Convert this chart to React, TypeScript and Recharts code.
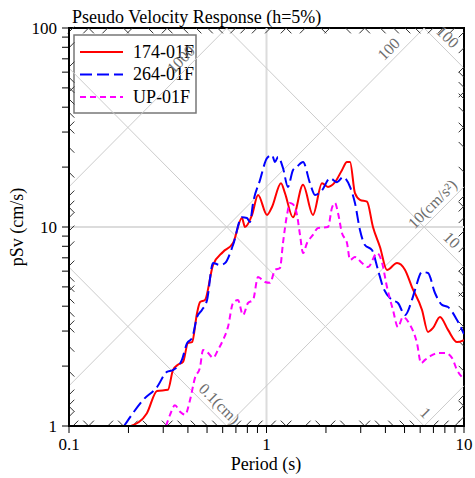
import React from 'react';
import { LineChart, Line, XAxis, YAxis, ReferenceLine, ReferenceArea, ReferenceDot, Customized } from 'recharts';

const titleText = 'Pseudo Velocity Response (h=5%)';
const xLabel = 'Period (s)';
const yLabel = 'pSv (cm/s)';

const seriesNames = ['174-01F', '264-01F', 'UP-01F'];
const seriesColors = ['#ff0000', '#0000ff', '#ff00ff'];
const seriesDash = ['', '12 5', '6 4'];

// 174-01F
const redT = [0.206, 0.248, 0.279, 0.317, 0.336, 0.356, 0.378, 0.400, 0.420, 0.445, 0.461, 0.488, 0.536, 0.602, 0.677, 0.751, 0.778, 0.845, 0.906, 1.006, 1.066, 1.184, 1.24, 1.361, 1.531, 1.719, 1.91, 2.048, 2.223, 2.41, 2.556, 2.648, 2.805, 2.973, 3.227, 3.46, 3.755, 4.074, 4.58, 5.03, 5.45, 6.13, 6.57, 6.97, 7.56, 8.30, 9.22, 10.0];
const redV = [1.0, 1.16, 1.50, 1.52, 1.91, 2.03, 2.10, 2.61, 2.64, 3.70, 4.20, 4.30, 6.44, 7.49, 8.31, 11.1, 10.0, 11.5, 14.5, 11.5, 12.6, 16.6, 14.8, 11.2, 16.3, 11.5, 16.6, 15.9, 16.8, 19.3, 21.2, 21.2, 14.8, 13.7, 13.4, 10.0, 7.93, 6.08, 6.59, 6.08, 4.99, 3.83, 2.97, 3.11, 3.53, 3.04, 2.64, 2.70];

// 264-01F
const blueT = [0.190, 0.208, 0.237, 0.279, 0.313, 0.336, 0.373, 0.396, 0.420, 0.445, 0.471, 0.500, 0.536, 0.582, 0.617, 0.677, 0.751, 0.796, 0.825, 0.855, 0.927, 1.006, 1.066, 1.104, 1.143, 1.212, 1.284, 1.361, 1.427, 1.531, 1.66, 1.76, 1.91, 2.097, 2.275, 2.44, 2.648, 2.805, 2.973, 3.15, 3.42, 3.67, 3.89, 4.32, 4.63, 5.03, 5.45, 5.65, 6.13, 6.57, 7.13, 7.74, 8.30, 9.22, 10.0];
const blueV = [1.0, 1.14, 1.35, 1.57, 1.87, 1.91, 2.15, 2.61, 2.77, 3.53, 3.83, 4.30, 6.59, 6.44, 6.59, 8.12, 11.2, 11.1, 10.6, 13.2, 17.2, 22.2, 23.0, 21.2, 22.5, 19.8, 15.9, 19.3, 20.1, 21.2, 16.6, 14.5, 15.3, 17.6, 16.8, 17.8, 15.9, 13.2, 9.66, 8.12, 7.66, 6.08, 4.99, 4.30, 4.15, 3.61, 4.30, 4.83, 5.94, 5.87, 4.66, 4.06, 3.96, 3.41, 2.90];

// UP-01F
const magT = [0.310, 0.325, 0.344, 0.365, 0.387, 0.410, 0.434, 0.461, 0.477, 0.506, 0.536, 0.568, 0.602, 0.638, 0.677, 0.717, 0.760, 0.806, 0.855, 0.906, 0.982, 1.042, 1.104, 1.17, 1.212, 1.27, 1.315, 1.361, 1.427, 1.478, 1.531, 1.604, 1.719, 1.823, 2.048, 2.146, 2.223, 2.30, 2.41, 2.556, 2.648, 2.805, 3.045, 3.265, 3.63, 3.85, 4.074, 4.37, 4.63, 4.91, 5.33, 5.78, 6.06, 6.35, 6.89, 7.38, 8.01, 8.69, 9.22, 10.0];
const magV = [1.0, 1.14, 1.27, 1.18, 1.14, 1.35, 1.74, 1.98, 2.41, 2.33, 2.20, 2.41, 2.70, 3.14, 4.15, 4.30, 3.61, 4.15, 4.30, 5.61, 5.29, 5.24, 6.08, 6.22, 8.31, 11.5, 13.2, 13.0, 11.5, 9.12, 7.40, 8.31, 9.12, 9.89, 10.0, 12.5, 13.2, 11.8, 9.33, 8.31, 6.83, 7.07, 6.59, 6.29, 7.40, 6.59, 4.99, 3.83, 3.14, 3.53, 3.22, 2.61, 2.07, 2.15, 2.27, 2.33, 2.33, 2.20, 1.91, 1.72];

const xDomain = [0.1, 10];
const yDomain = [1, 100];
const xTicks = [0.1, 0.2, 0.3, 0.4, 0.5, 0.6, 0.7, 0.8, 0.9, 1, 2, 3, 4, 5, 6, 7, 8, 9, 10];
const xTickLabels = [0.1, 1, 10];
const yTicks = [1, 2, 3, 4, 5, 6, 7, 8, 9, 10, 20, 30, 40, 50, 60, 70, 80, 90, 100];
const yTickLabels = [1, 10, 100];

// tripartite grid: displacement (cm) and acceleration (cm/s^2)
const dispGrid = [0.1, 1, 10, 100];
const accGrid = [1, 10, 100, 1000];
const dispDecades = [0.01, 0.1, 1, 10, 100];
const accDecades = [0.1, 1, 10, 100, 1000];
const tickMultipliers = [2, 3, 4, 5, 6, 7, 8, 9];

const diagLabels = [
  { text: '0.1(cm)', kind: 'd', value: 0.1 },
  { text: '1', kind: 'd', value: 1 },
  { text: '10', kind: 'd', value: 10 },
  { text: '100', kind: 'd', value: 100 },
  { text: '10(cm/s\u00b2)', kind: 'a', value: 10 },
  { text: '100', kind: 'a', value: 100 },
  { text: '1000', kind: 'a', value: 1000 },
];
const diagLabelAt = [0.43, 5.68, 7.45, 6.87, 5.85, 4.1, 0.352];

const FONT = "'Liberation Serif', 'DejaVu Serif', serif";
const fontStyle = { fontFamily: FONT };
const TWO_PI = 2 * Math.PI;
const lg = Math.log10;

function toData(ts: number[], vs: number[]) {
  return ts.map((t, i) => ({ T: t, v: vs[i] }));
}
const seriesData = [toData(redT, redV), toData(blueT, blueV), toData(magT, magV)];

function svOnLine(kind: string, value: number, T: number) {
  return kind === 'd' ? (TWO_PI * value) / T : (value * T) / TWO_PI;
}

// endpoints in log space of a diagonal within the plot box
function clip(kind: string, value: number) {
  const X0 = lg(xDomain[0]), X1 = lg(xDomain[1]), Y0 = lg(yDomain[0]), Y1 = lg(yDomain[1]);
  const pts: number[][] = [];
  const eps = 1e-9;
  if (kind === 'd') {
    const c = lg(TWO_PI * value);
    pts.push([X0, c - X0], [X1, c - X1], [c - Y1, Y1], [c - Y0, Y0]);
  } else {
    const k = lg(value / TWO_PI);
    pts.push([X0, X0 + k], [X1, X1 + k], [Y1 - k, Y1], [Y0 - k, Y0]);
  }
  const inside = pts.filter(p => p[0] >= X0 - eps && p[0] <= X1 + eps && p[1] >= Y0 - eps && p[1] <= Y1 + eps);
  if (inside.length < 2) return null;
  inside.sort((a, b) => a[0] - b[0]);
  return [inside[0], inside[inside.length - 1]];
}

const TICK_L = 0.027;
function frameTicks() {
  const segs: { a: number[]; b: number[] }[] = [];
  const kinds: [string, number[]][] = [['d', dispDecades], ['a', accDecades]];
  kinds.forEach(([kind, decs]) => {
    decs.forEach(dec => {
      tickMultipliers.forEach(m => {
        const v = m * dec;
        const e = clip(kind, v);
        if (!e) return;
        const dy = kind === 'd' ? -1 : 1;
        const [p, q] = e;
        segs.push({ a: p, b: [p[0] + TICK_L, p[1] + dy * TICK_L] });
        segs.push({ a: q, b: [q[0] - TICK_L, q[1] - dy * TICK_L] });
      });
    });
  });
  return segs;
}

const DiagText = (props: any) => {
  const { cx, cy, text, kind } = props;
  const off = 5;
  const ux = kind === 'd' ? 0.7071 : -0.7071;
  const uy = -0.7071;
  const x = cx + ux * off;
  const y = cy + uy * off;
  const ang = kind === 'd' ? 45 : -45;
  return (
    <text x={x} y={y} transform={`rotate(${ang} ${x} ${y})`} fontSize={16} fill="#6e6e6e" style={fontStyle}>
      {text}
    </text>
  );
};

const Decor = () => (
  <g>
    <text x={72} y={23} fontSize={18} style={fontStyle} fill="#000">{titleText}</text>
    <text x={266} y={470} fontSize={18} style={fontStyle} fill="#000" textAnchor="middle">{xLabel}</text>
    <text x={23} y={227} fontSize={18} style={fontStyle} fill="#000" textAnchor="middle" transform="rotate(-90 23 227)">{yLabel}</text>
  </g>
);

const LegendBox = () => (
  <g>
    <rect x={74} y={35} width={122} height={78} fill="#fff" stroke="#777" strokeWidth={1.5} />
    {seriesNames.map((n, i) => {
      const y = 52 + i * 22.5;
      return (
        <g key={n}>
          <line x1={80} x2={123} y1={y} y2={y} stroke={seriesColors[i]} strokeWidth={2} strokeDasharray={seriesDash[i] || undefined} />
          <text x={133} y={y + 5.5} fontSize={18} style={fontStyle} fill="#000">{n}</text>
        </g>
      );
    })}
  </g>
);

export default function App() {
  const ticks = frameTicks();
  const lines: { a: number[]; b: number[] }[] = [];
  dispGrid.forEach(v => { const e = clip('d', v); if (e) lines.push({ a: e[0], b: e[1] }); });
  accGrid.forEach(v => { const e = clip('a', v); if (e) lines.push({ a: e[0], b: e[1] }); });
  const p10 = (x: number) => Math.pow(10, x);
  return (
    <div style={{ position: 'absolute', left: 0, top: 0, width: 475, height: 478, background: '#fff', fontFamily: FONT }}>
      <LineChart width={475} height={478} margin={{ top: 28, right: 11, bottom: 0, left: 0 }} style={fontStyle}>
        <XAxis
          dataKey="T"
          type="number"
          scale="log"
          domain={xDomain}
          ticks={xTicks}
          allowDataOverflow
          height={52}
          tickSize={7}
          tickMargin={5}
          interval={0}
          axisLine={{ stroke: '#000', strokeWidth: 2 }}
          tickLine={{ stroke: '#000', strokeWidth: 1 }}
          tick={{ fontSize: 17, fill: '#000', style: fontStyle }}
          tickFormatter={(v: number) => (xTickLabels.includes(v) ? String(v) : '')}
        />
        <YAxis
          dataKey="v"
          type="number"
          scale="log"
          domain={yDomain}
          ticks={yTicks}
          allowDataOverflow
          width={69}
          tickSize={7}
          tickMargin={5}
          interval={0}
          axisLine={{ stroke: '#000', strokeWidth: 2 }}
          tickLine={{ stroke: '#000', strokeWidth: 1 }}
          tick={{ fontSize: 17, fill: '#000', style: fontStyle }}
          tickFormatter={(v: number) => (yTickLabels.includes(v) ? String(v) : '')}
        />
        <ReferenceLine x={1} stroke="#dcdcdc" strokeWidth={2} ifOverflow="visible" />
        <ReferenceLine y={10} stroke="#dcdcdc" strokeWidth={2} ifOverflow="visible" />
        {lines.map((s, i) => (
          <ReferenceLine
            key={'g' + i}
            segment={[{ x: p10(s.a[0]), y: p10(s.a[1]) }, { x: p10(s.b[0]), y: p10(s.b[1]) }]}
            stroke="#cccccc"
            strokeWidth={1}
            ifOverflow="visible"
          />
        ))}
        {ticks.map((s, i) => (
          <ReferenceLine
            key={'t' + i}
            segment={[{ x: p10(s.a[0]), y: p10(s.a[1]) }, { x: p10(s.b[0]), y: p10(s.b[1]) }]}
            stroke="#333"
            strokeWidth={1}
            ifOverflow="visible"
          />
        ))}
        {seriesData.map((d, i) => (
          <Line
            key={seriesNames[i]}
            data={d}
            dataKey="v"
            name={seriesNames[i]}
            type="monotone"
            stroke={seriesColors[i]}
            strokeWidth={2}
            strokeDasharray={seriesDash[i] || undefined}
            dot={false}
            activeDot={false}
            isAnimationActive={false}
          />
        ))}
        <ReferenceArea x1={xDomain[0]} x2={xDomain[1]} y1={yDomain[0]} y2={yDomain[1]} fill="none" fillOpacity={0} stroke="#000" strokeWidth={2} ifOverflow="visible" />
        <Customized component={<LegendBox />} />
        {diagLabels.map((l, i) => (
          <ReferenceDot
            key={'l' + i}
            x={diagLabelAt[i]}
            y={svOnLine(l.kind, l.value, diagLabelAt[i])}
            r={0}
            ifOverflow="visible"
            shape={(p: any) => <DiagText cx={p.cx} cy={p.cy} text={l.text} kind={l.kind} />}
          />
        ))}
        <Customized component={<Decor />} />
      </LineChart>
    </div>
  );
}
